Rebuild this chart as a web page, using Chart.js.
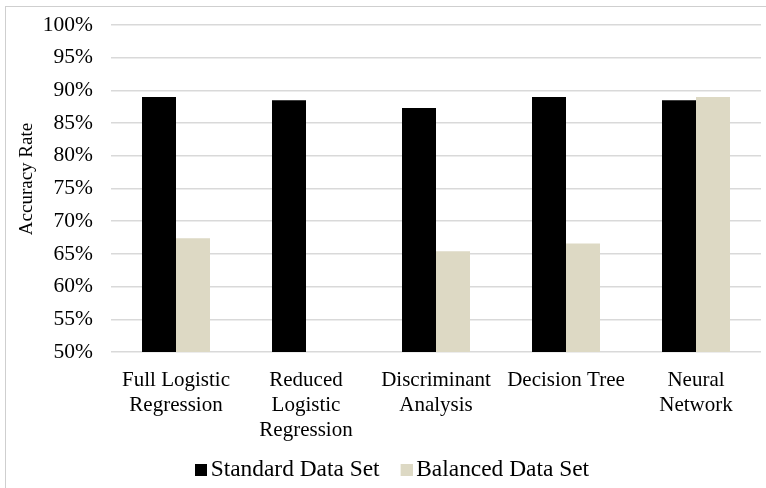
<!DOCTYPE html>
<html>
<head>
<meta charset="utf-8">
<script src="https://cdn.jsdelivr.net/npm/chart.js@4.4.1/dist/chart.umd.min.js"></script>
<style>
  html, body { margin: 0; padding: 0; background: #ffffff; overflow: hidden; }
  #wrap { position: relative; width: 766px; height: 488px; overflow: hidden; }
  #frame { position: absolute; left: 5px; top: 6px; width: 800px; height: 520px;
           border: 1px solid #cfcfcf; box-sizing: border-box; }
  canvas { position: absolute; left: 0; top: 0; }
</style>
</head>
<body>
<div id="wrap">
  <div id="frame"></div>
  <canvas id="chart" width="766" height="488"></canvas>
</div>
<script>
// Model accuracy by classifier, standard vs. balanced training data (percent)
const categories = [
  ["Full Logistic", "Regression"],
  ["Reduced", "Logistic", "Regression"],
  ["Discriminant", "Analysis"],
  ["Decision Tree"],
  ["Neural", "Network"]
];
const standardData = [89.0, 88.5, 87.3, 89.0, 88.5];
const balancedData = [67.4, null, 65.4, 66.6, 89.0];
const seriesNames = ["Standard Data Set", "Balanced Data Set"];
const seriesColors = ["#000000", "#ddd9c4"];
const yMin = 50, yMax = 100, yStep = 5;

const serif = "'Liberation Serif', 'Times New Roman', serif";

// Legend swatch: a 12px square sitting in the right half of a 24px canvas,
// so the text follows the square closely.
function swatch(color) {
  const c = document.createElement("canvas");
  c.width = 24; c.height = 12;
  const g = c.getContext("2d");
  g.fillStyle = color;
  g.fillRect(12, 0, 12, 12);
  return c;
}
const swatches = seriesColors.map(swatch);

new Chart(document.getElementById("chart"), {
  type: "bar",
  data: {
    labels: categories,
    datasets: [
      { label: seriesNames[0], data: standardData, backgroundColor: seriesColors[0],
        barPercentage: 1.0, categoryPercentage: 0.523 },
      { label: seriesNames[1], data: balancedData, backgroundColor: seriesColors[1],
        barPercentage: 1.0, categoryPercentage: 0.523 }
    ]
  },
  options: {
    responsive: false,
    animation: false,
    layout: { padding: { top: 25, right: 5, bottom: -4, left: 19 } },
    plugins: {
      tooltip: { enabled: false },
      legend: {
        position: "bottom",
        labels: {
          usePointStyle: true, pointStyleWidth: 8, boxHeight: 12,
          padding: 17, color: "#000000",
          font: { family: serif, size: 23.4 },
          generateLabels: (chart) => {
            const items = Chart.defaults.plugins.legend.labels.generateLabels(chart);
            items.forEach((it, i) => { it.pointStyle = swatches[i]; });
            return items;
          }
        }
      }
    },
    scales: {
      x: {
        grid: { display: false, drawTicks: false },
        border: { display: false },
        ticks: {
          color: "#000000", autoSkip: false, maxRotation: 0, minRotation: 0,
          padding: 16, font: { family: serif, size: 21, lineHeight: "25px" }
        },
        afterFit: (scale) => {
          scale.height = 89.6;
          // let the three-line category label run past the axis box
          scale._computeLabelArea = () => undefined;
        }
      },
      y: {
        min: yMin, max: yMax,
        grid: { color: "#d9d9d9", lineWidth: 1.6, drawTicks: false },
        border: { display: false },
        ticks: {
          stepSize: yStep, color: "#000000", padding: 18,
          font: { family: serif, size: 21.5 },
          callback: (v) => v + "%"
        },
        title: {
          display: true, text: "    Accuracy Rate", color: "#000000",
          padding: { top: -3, bottom: 0 },
          font: { family: serif, size: 19 }
        },
        afterFit: (scale) => {
          scale.width = 92;
          scale.paddingTop = 0;
          scale.paddingBottom = 0;
        }
      }
    }
  }
});
</script>
</body>
</html>
